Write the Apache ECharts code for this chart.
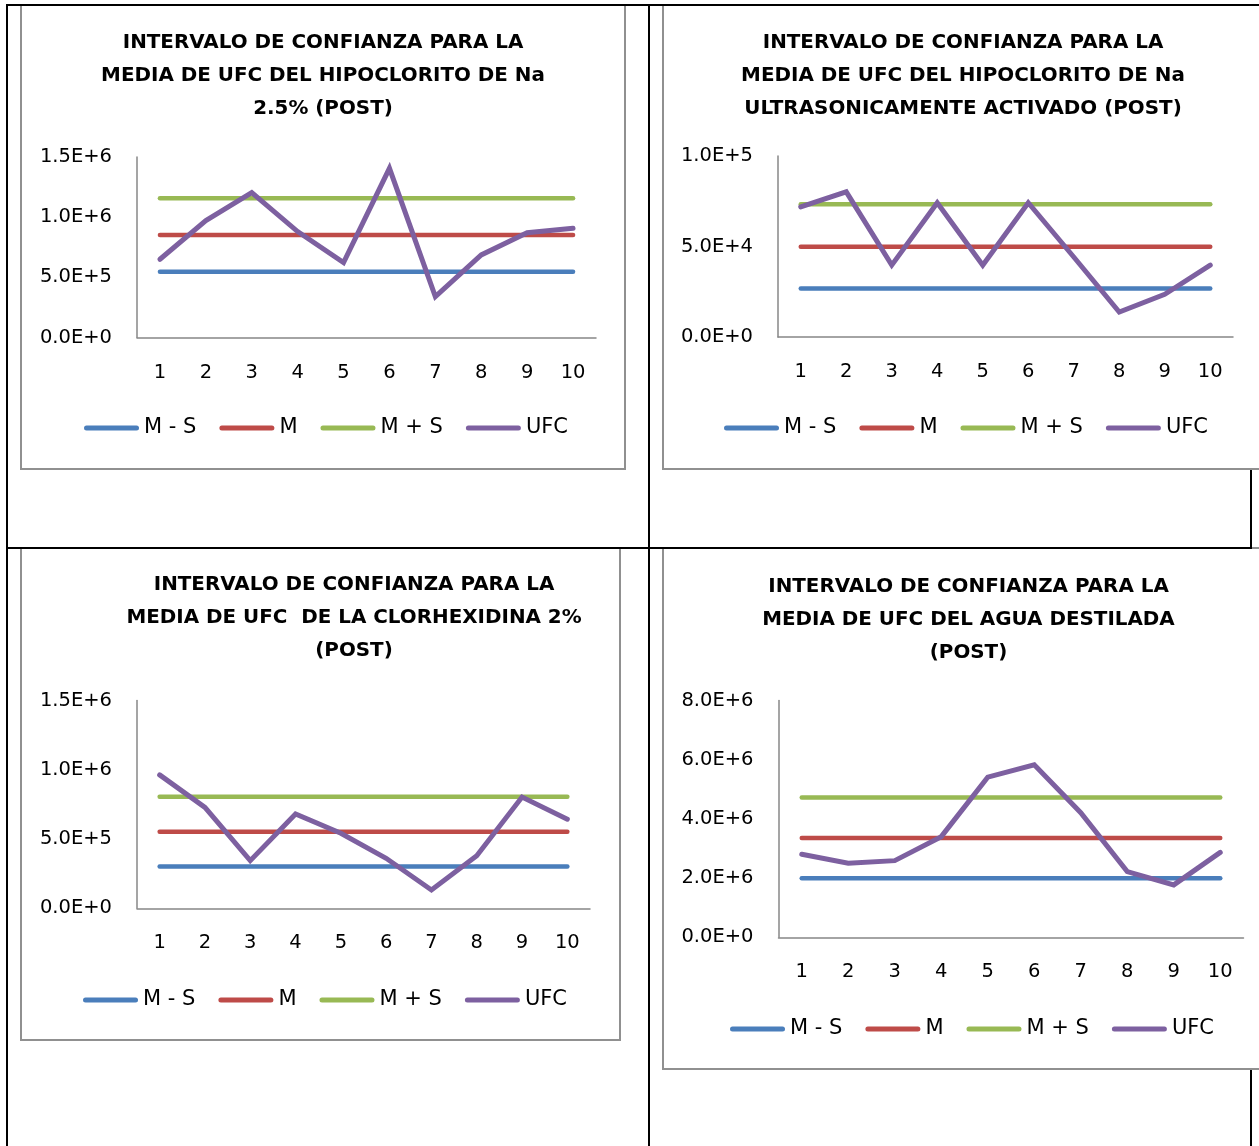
<!DOCTYPE html>
<html>
<head>
<meta charset="utf-8">
<title>Intervalo de confianza para la media de UFC (post)</title>
<script src="https://cdn.jsdelivr.net/npm/echarts@6/dist/echarts.min.js"></script>
<style>
  html, body { margin: 0; padding: 0; background: #fff; }
  #page { position: relative; width: 1259px; height: 1146px; overflow: hidden; background: #fff; }
  .rule { position: absolute; background: #000; }
  .rule.front { z-index: 2; }
  .box { position: absolute; background: #fff; border: 2px solid #909090; box-sizing: border-box; z-index: 1; }
  #chart { position: absolute; left: 0; top: 0; width: 1259px; height: 1146px; z-index: 3; }
</style>
</head>
<body>
<div id="page">
  <!-- table rules -->
  <div class="rule" style="left:6px;top:4px;width:2px;height:1142px"></div>
  <div class="rule" style="left:648px;top:4px;width:2px;height:1142px"></div>
  <div class="rule" style="left:1250px;top:4px;width:2px;height:1142px"></div>
  <div class="rule front" style="left:6px;top:4px;width:1253px;height:2px"></div>
  <div class="rule front" style="left:6px;top:547px;width:1246px;height:2px"></div>
  <!-- chart frames -->
  <div class="box" style="left:20px;top:4px;width:606px;height:466px"></div>
  <div class="box" style="left:662px;top:4px;width:602px;height:466px"></div>
  <div class="box" style="left:20px;top:547px;width:601px;height:494px"></div>
  <div class="box" style="left:662px;top:547px;width:602px;height:523px"></div>
  <div id="chart"></div>
</div>
<script>
// Sample numbers on the category axis
const categories = ['1', '2', '3', '4', '5', '6', '7', '8', '9', '10'];
const legendNames = ['M - S', 'M', 'M + S', 'UFC'];

// Hipoclorito de Na 2.5%
const hipoLow  = [547000, 547000, 547000, 547000, 547000, 547000, 547000, 547000, 547000, 547000];
const hipoMean = [852000, 852000, 852000, 852000, 852000, 852000, 852000, 852000, 852000, 852000];
const hipoHigh = [1157000, 1157000, 1157000, 1157000, 1157000, 1157000, 1157000, 1157000, 1157000, 1157000];
const hipoUfc  = [650000, 971000, 1204000, 880000, 622000, 1406000, 339000, 686000, 871000, 908000];
const hipoTicks = [0, 500000, 1000000, 1500000];

// Hipoclorito de Na ultrasonicamente activado
const ultraLow  = [26800, 26800, 26800, 26800, 26800, 26800, 26800, 26800, 26800, 26800];
const ultraMean = [49800, 49800, 49800, 49800, 49800, 49800, 49800, 49800, 49800, 49800];
const ultraHigh = [73400, 73400, 73400, 73400, 73400, 73400, 73400, 73400, 73400, 73400];
const ultraUfc  = [71900, 80200, 39700, 74200, 39700, 74200, 44200, 13800, 23600, 39700];
const ultraTicks = [0, 50000, 100000];

// Clorhexidina 2%
const clorLow  = [301000, 301000, 301000, 301000, 301000, 301000, 301000, 301000, 301000, 301000];
const clorMean = [553000, 553000, 553000, 553000, 553000, 553000, 553000, 553000, 553000, 553000];
const clorHigh = [806000, 806000, 806000, 806000, 806000, 806000, 806000, 806000, 806000, 806000];
const clorUfc  = [963000, 728000, 344000, 681000, 542000, 361000, 132000, 380000, 803000, 643000];
const clorTicks = [0, 500000, 1000000, 1500000];

// Agua destilada
const aguaLow  = [1995000, 1995000, 1995000, 1995000, 1995000, 1995000, 1995000, 1995000, 1995000, 1995000];
const aguaMean = [3357000, 3357000, 3357000, 3357000, 3357000, 3357000, 3357000, 3357000, 3357000, 3357000];
const aguaHigh = [4720000, 4720000, 4720000, 4720000, 4720000, 4720000, 4720000, 4720000, 4720000, 4720000];
const aguaUfc  = [2806000, 2500000, 2590000, 3400000, 5410000, 5825000, 4210000, 2220000, 1770000, 2870000];
const aguaTicks = [0, 2000000, 4000000, 6000000, 8000000];

const titles = [
  'INTERVALO DE CONFIANZA PARA LA\nMEDIA DE UFC DEL HIPOCLORITO DE Na\n2.5% (POST)',
  'INTERVALO DE CONFIANZA PARA LA\nMEDIA DE UFC DEL HIPOCLORITO DE Na\nULTRASONICAMENTE ACTIVADO (POST)',
  'INTERVALO DE CONFIANZA PARA LA\nMEDIA DE UFC  DE LA CLORHEXIDINA 2%\n(POST)',
  'INTERVALO DE CONFIANZA PARA LA\nMEDIA DE UFC DEL AGUA DESTILADA\n(POST)'
];

const FONT = '"DejaVu Sans", sans-serif';
const COLORS = ['#4A7EBB', '#BE4B48', '#98B954', '#7D60A0'];
const AXIS_COLOR = '#878787';
const LEGEND_ICON = 'path://M2.5 0H52.5A2.5 2.5 0 0 1 52.5 5H2.5A2.5 2.5 0 0 1 2.5 0Z';

// panel layout: frame geometry in page pixels
const panels = [
  { data: [hipoLow, hipoMean, hipoHigh, hipoUfc], ticks: hipoTicks,
    titleX: 323, titleY: 26, grid: { left: 137, top: 157, width: 459, height: 180.5 }, legend: { left: 84, top: 416 } },
  { data: [ultraLow, ultraMean, ultraHigh, ultraUfc], ticks: ultraTicks,
    titleX: 963, titleY: 26, grid: { left: 778, top: 156, width: 455, height: 181 }, legend: { left: 724, top: 416 } },
  { data: [clorLow, clorMean, clorHigh, clorUfc], ticks: clorTicks,
    titleX: 354, titleY: 568, grid: { left: 137, top: 700.5, width: 453, height: 207.8 }, legend: { left: 83, top: 988 } },
  { data: [aguaLow, aguaMean, aguaHigh, aguaUfc], ticks: aguaTicks,
    titleX: 968.5, titleY: 570, grid: { left: 778.5, top: 700.5, width: 465, height: 236.8 }, legend: { left: 730, top: 1017 } }
];

function sci(v) {
  return Number(v).toExponential(1).toUpperCase();
}

const option = {
  animation: false,
  backgroundColor: 'transparent',
  color: COLORS,
  title: [], grid: [], xAxis: [], yAxis: [], legend: [], series: []
};

panels.forEach(function (p, i) {
  option.title.push({
    text: titles[i],
    left: p.titleX,
    top: p.titleY,
    textAlign: 'center',
    padding: 0,
    textStyle: { fontFamily: FONT, fontWeight: 'bold', fontSize: 19.9, lineHeight: 33, color: '#000' }
  });
  option.grid.push(Object.assign({ containLabel: false, outerBoundsMode: 'none' }, p.grid));
  option.xAxis.push({
    type: 'category', gridIndex: i, data: categories, boundaryGap: true,
    axisLine: { show: true, lineStyle: { color: AXIS_COLOR, width: 1.5 } },
    axisTick: { show: false },
    splitLine: { show: false },
    axisLabel: { interval: 0, margin: 25, color: '#000', fontFamily: FONT, fontSize: 19.5 }
  });
  option.yAxis.push({
    type: 'value', gridIndex: i,
    min: p.ticks[0], max: p.ticks[p.ticks.length - 1], interval: p.ticks[1] - p.ticks[0],
    axisLine: { show: true, lineStyle: { color: AXIS_COLOR, width: 1.5 } },
    axisTick: { show: false },
    splitLine: { show: false },
    axisLabel: { margin: 25, color: '#000', fontFamily: FONT, fontSize: 19.5, formatter: sci }
  });
  option.legend.push({
    left: p.legend.left, top: p.legend.top, orient: 'horizontal', padding: 0,
    itemWidth: 55, itemHeight: 5, itemGap: 23, icon: LEGEND_ICON, selectedMode: false,
    data: legendNames,
    textStyle: { fontFamily: FONT, fontSize: 21, lineHeight: 24, color: '#000' }
  });
  p.data.forEach(function (values, k) {
    option.series.push({
      name: legendNames[k], type: 'line', xAxisIndex: i, yAxisIndex: i,
      data: values, symbol: 'none', silent: true, z: 2 + k,
      itemStyle: { color: COLORS[k] },
      lineStyle: { color: COLORS[k], width: k === 3 ? 5 : 4.5, cap: 'round', join: 'miter' }
    });
  });
});

const chart = echarts.init(document.getElementById('chart'), null, { renderer: 'canvas' });
chart.setOption(option);
</script>
</body>
</html>
